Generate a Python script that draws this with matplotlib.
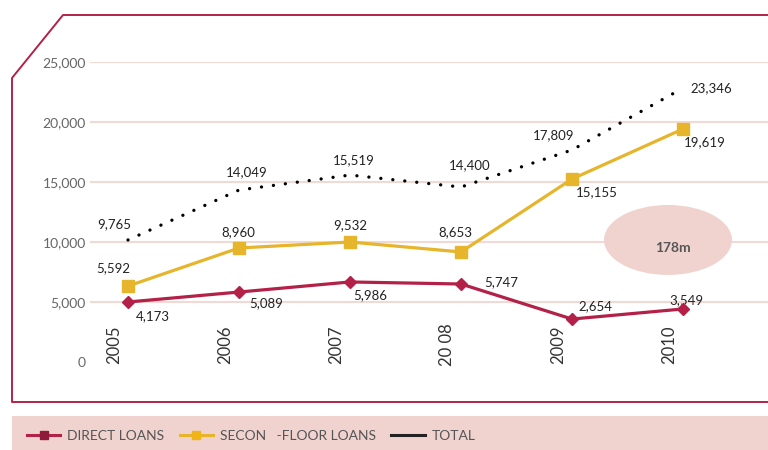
import matplotlib
matplotlib.use("Agg")
import matplotlib.pyplot as plt
from matplotlib.lines import Line2D
from matplotlib.patches import Ellipse, Rectangle

plt.rcParams["font.family"] = ["Lato", "DejaVu Sans"]

years = [2005, 2006, 2007, 2008, 2009, 2010]
year_labels = ["2005", "2006", "2007", "20 08", "2009", "2010"]

# where the marks sit on the chart
direct_pos = [5000, 5830, 6670, 6500, 3580, 4420]
secondary_pos = [6330, 9500, 10000, 9170, 15250, 19420]
total_pos = [10170, 14330, 15580, 14580, 17670, 22830]

# printed values
direct_lbl = ["4,173", "5,089", "5,986", "5,747", "2,654", "3,549"]
secondary_lbl = ["5,592", "8,960", "9,532", "8,653", "15,155", "19,619"]
total_lbl = ["9,765", "14,049", "15,519", "14,400", "17,809", "23,346"]

yticks = [0, 5000, 10000, 15000, 20000, 25000]

crimson = "#b32148"
dark_crimson = "#8e1b3c"
yellow = "#e6b52c"
grid_pink = "#f3d9d4"
band_pink = "#f0d3cf"

W, H = 768, 450
fig = plt.figure(figsize=(7.68, 4.5), dpi=100)

# axes: x 90..768 px, y 0 at 362 px, 25000 at 62 px
ax = fig.add_axes([90 / W, (H - 362) / H, (768 - 90) / W, 300 / H])
ax.set_xlim(2005 - 38 / 111, 2005 + 640 / 111)
ax.set_ylim(0, 25000)
for s in ax.spines.values():
    s.set_visible(False)
ax.set_xticks([])
ax.set_yticks(yticks)
ax.set_yticklabels(["0" if v == 0 else f"{v:,}" for v in yticks],
                   color="#666666", fontsize=10)
ax.tick_params(axis="y", length=0, pad=3)
for v in yticks[1:]:
    ax.axhline(v, color=grid_pink, lw=1.5, zorder=0)

ax.plot(years, total_pos, color="black", lw=2.4,
        ls=(0, (0.01, 3.6)), dash_capstyle="round", zorder=3)
ax.plot(years, secondary_pos, color=yellow, lw=2.3, marker="s",
        markersize=9, zorder=4)
ax.plot(years, direct_pos, color=crimson, lw=2.3, marker="D",
        markersize=6.5, zorder=5)

# value labels, offsets in pixels
tot_off = [(-14, 16), (8, 18), (4, 15), (9, 22), (-18, 15), (28, 0)]
sec_off = [(-15, 18), (-1, 16), (0, 17), (-6, 20), (25, -13), (22, -13)]
dir_off = [(25, -14), (27, -11), (20, -13), (40, 2), (23, 13), (3, 9)]
fs = 9.5
for i, x in enumerate(years):
    ax.annotate(total_lbl[i], (x, total_pos[i]), xytext=tot_off[i],
                textcoords="offset pixels", ha="center", va="center",
                fontsize=fs, color="#222222")
    ax.annotate(secondary_lbl[i], (x, secondary_pos[i]), xytext=sec_off[i],
                textcoords="offset pixels", ha="center", va="center",
                fontsize=fs, color="#222222")
    ax.annotate(direct_lbl[i], (x, direct_pos[i]), xytext=dir_off[i],
                textcoords="offset pixels", ha="center", va="center",
                fontsize=fs, color="#222222")
    ax.annotate(year_labels[i], (x, 0), xytext=(-14, 17),
                textcoords="offset pixels", ha="center", va="center",
                rotation=90, fontsize=12, color="#333333")

# bubble
ax.add_patch(Ellipse((2005 + 540 / 111, 10170), 128 / 111, 70 * 1000 / 12,
                     facecolor=band_pink, edgecolor="none", zorder=2))
ax.text(2005 + 545 / 111, 9500, "178m", ha="center", va="center",
        fontsize=10, fontweight="bold", color="#555555", zorder=3)

# frame
fx = [W + 5, 63, 12, 12, W + 5]
fy = [15, 15, 78, 402, 402]
fig.add_artist(Line2D([x / W for x in fx], [1 - y / H for y in fy],
                      color=crimson, lw=1.4))

# legend band
fig.add_artist(Rectangle((12 / W, 0), 1, (H - 416) / H,
                         facecolor=band_pink, edgecolor="none"))
handles = [
    Line2D([], [], color=crimson, lw=2.2, marker="s", markersize=6,
           markerfacecolor=dark_crimson, markeredgecolor=dark_crimson),
    Line2D([], [], color=yellow, lw=2.2, marker="s", markersize=6,
           markerfacecolor="#f0b418", markeredgecolor="#f0b418"),
    Line2D([], [], color="#222222", lw=2.2),
]
leg = fig.legend(handles, ["DIRECT LOANS", "SECON   -FLOOR LOANS", "TOTAL"],
                 loc="center left", bbox_to_anchor=(27 / W, 1 - 436 / H),
                 ncol=3, frameon=False, fontsize=10, handlelength=2.4,
                 handletextpad=0.5, columnspacing=1.1, borderaxespad=0,
                 borderpad=0)
for t in leg.get_texts():
    t.set_color("#555555")

fig.savefig("out.png", dpi=100)
